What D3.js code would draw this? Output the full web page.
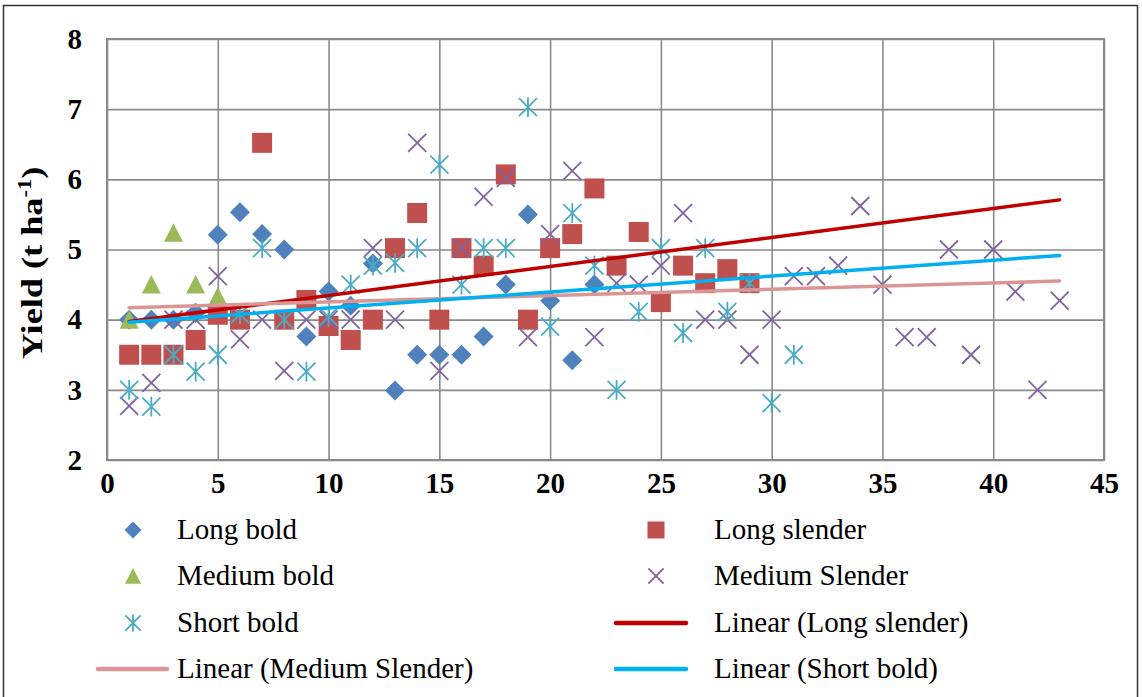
<!DOCTYPE html>
<html>
<head>
<meta charset="utf-8">
<script src="https://cdn.jsdelivr.net/npm/d3@7"></script>
<style>
  body { margin: 0; background: #fff; }
  svg { display: block; }
  text { font-family: "Liberation Serif", "Times New Roman", serif; fill: #000; }
</style>
</head>
<body>
<svg id="chart" width="1142" height="697"></svg>
<script>
// Yield (t ha-1) per sample number; sample n is the n-th value of each list
const longBold = [4.0, 4.0, 4.0, 4.1, 5.21, 5.53, 5.22, 5.0, 3.76, 4.4, 4.2, 4.8, 2.99, 3.5, 3.5,
  3.5, 3.76, 4.5, 5.5, 4.27, 3.42, 4.5];
const longSlender = [3.5, 3.5, 3.5, 3.71, 4.07, 4.0, 6.52, 4.0, 4.28, 3.91, 3.71, 4.0, 5.02, 5.52, 4.0,
  5.02, 4.77, 6.07, 4.0, 5.02, 5.22, 5.87, 4.77, 5.25, 4.25, 4.77, 4.52, 4.72, 4.52];
const mediumBold = [4.0, 4.5, 5.24, 4.5, 4.33];
const mediumSlender = [2.77, 3.1, 4.0, 4.0, 4.62, 3.72, 4.0, 3.27, 4.0, 4.0, 4.0, 5.02, 4.0, 6.52, 3.27,
  5.02, 5.75, 6.02, 3.75, 5.22, 6.12, 3.75, 4.52, 4.5, 4.77, 5.52, 4.0, 4.0, 3.5, 4.0,
  4.62, 4.62, 4.77, 5.62, 4.5, 3.75, 3.75, 5.0, 3.5, 5.0, 4.4, 3.0, 4.27];
const shortBold = [3.0, 2.76, 3.5, 3.26, 3.5, 4.08, 5.02, 4.0, 3.26, 4.04, 4.5, 4.77, 4.81, 5.02, 6.21,
  4.5, 5.02, 5.02, 7.03, 3.9, 5.52, 4.77, 3.0, 4.11, 5.02, 3.81, 5.02, 4.11, 4.52, 2.81, 3.5];

const xTicks = [0, 5, 10, 15, 20, 25, 30, 35, 40, 45];
const yTicks = [2, 3, 4, 5, 6, 7, 8];

const seriesNames = ["Long bold", "Long slender", "Medium bold", "Medium Slender", "Short bold"];
const seriesValues = [longBold, longSlender, mediumBold, mediumSlender, shortBold];
const seriesColors = ["#4F81BD", "#C0504D", "#9BBB59", "#8064A2", "#4BACC6"];
const seriesShapes = ["diamond", "square", "triangle", "x", "star"];

// Linear trendlines (least squares) fitted to three of the groups
const trendNames = ["Linear (Long slender)", "Linear (Medium Slender)", "Linear (Short bold)"];
const trendSource = [longSlender, mediumSlender, shortBold];
const trendColors = ["#C00000", "#D99694", "#00B0F0"];

const svg = d3.select("#chart");
const plot = { left: 107, top: 39, right: 1104, bottom: 460 };

const x = d3.scaleLinear().domain([0, 45]).range([plot.left, plot.right]);
const y = d3.scaleLinear().domain([2, 8]).range([plot.bottom, plot.top]);

// outer chart border
svg.append("rect")
  .attr("x", 3.5).attr("y", 5.5).attr("width", 1134).attr("height", 700)
  .attr("fill", "none").attr("stroke", "#333").attr("stroke-width", 1.5);

// gridlines + axes
const gx = svg.append("g")
  .attr("transform", `translate(0,${plot.bottom})`)
  .call(d3.axisBottom(x).tickValues(xTicks).tickSize(-(plot.bottom - plot.top)).tickPadding(12));
const gy = svg.append("g")
  .attr("transform", `translate(${plot.left},0)`)
  .call(d3.axisLeft(y).tickValues(yTicks).tickSize(-(plot.right - plot.left)).tickPadding(25).tickFormat(d3.format("d")));
[gx, gy].forEach(g => {
  g.select(".domain").remove();
  g.selectAll(".tick line").attr("stroke", "#8a8a8a").attr("stroke-width", 1.6);
  g.selectAll(".tick text")
    .attr("font-family", "'Liberation Serif', 'Times New Roman', serif")
    .attr("font-size", 29).attr("font-weight", "bold").attr("fill", "#000");
});

svg.append("rect")
  .attr("x", plot.left).attr("y", plot.top)
  .attr("width", plot.right - plot.left).attr("height", plot.bottom - plot.top)
  .attr("fill", "none").attr("stroke", "#8a8a8a").attr("stroke-width", 2);

// marker shapes, s = half size
function shapePath(kind, s) {
  switch (kind) {
    case "diamond": return `M0,${-s}L${s},0L0,${s}L${-s},0Z`;
    case "square": return `M${-s},${-s}H${s}V${s}H${-s}Z`;
    case "triangle": return `M0,${-s}L${s},${s * 0.95}L${-s},${s * 0.95}Z`;
    case "x": return `M${-s},${-s}L${s},${s}M${s},${-s}L${-s},${s}`;
    case "star": return `M${-s},${-s}L${s},${s}M${s},${-s}L${-s},${s}M0,${-s * 1.1}L0,${s * 1.1}`;
  }
}
const markerSize = { diamond: 10, square: 10, triangle: 9.5, x: 9, star: 9 };
function styleMarker(sel, kind, color) {
  if (kind === "x" || kind === "star") {
    sel.attr("fill", "none").attr("stroke", color).attr("stroke-width", 1.8);
  } else {
    sel.attr("fill", color).attr("stroke", "none");
  }
}

const marks = svg.append("g");
seriesValues.forEach((vals, si) => {
  const kind = seriesShapes[si];
  const g = marks.append("g");
  g.selectAll("path").data(vals.map((v, i) => ({ n: i + 1, v })))
    .join("path")
    .attr("transform", d => `translate(${x(d.n)},${y(d.v)})`)
    .attr("d", shapePath(kind, markerSize[kind]))
    .call(styleMarker, kind, seriesColors[si]);
});

// trendlines drawn across the full sample range
const nMax = d3.max(seriesValues, v => v.length);
function fit(vals) {
  const xs = vals.map((v, i) => i + 1);
  const mx = d3.mean(xs), my = d3.mean(vals);
  const sxy = d3.sum(vals, (v, i) => (xs[i] - mx) * (v - my));
  const sxx = d3.sum(xs, xi => (xi - mx) ** 2);
  const b = sxy / sxx;
  return { a: my - b * mx, b };
}
const lineGen = d3.line().x(d => x(d[0])).y(d => y(d[1]));
trendSource.forEach((vals, ti) => {
  const { a, b } = fit(vals);
  svg.append("path")
    .attr("d", lineGen([[1, a + b], [nMax, a + b * nMax]]))
    .attr("fill", "none").attr("stroke", trendColors[ti])
    .attr("stroke-width", 3.5).attr("stroke-linecap", "round");
});

// y-axis title, glyphs stretched along the reading direction
const title = svg.append("text")
  .attr("transform", "translate(42,263) rotate(-90) scale(1.25,1)")
  .attr("text-anchor", "middle")
  .attr("font-size", 29).attr("font-weight", "bold");
title.append("tspan").text("Yield (t ha");
title.append("tspan").attr("font-size", 18).attr("dy", -11).text("-1");
title.append("tspan").attr("dy", 11).text(")");

// legend: two columns, filled row by row
const legendItems = [
  ...seriesNames.map((name, i) => ({ name, kind: seriesShapes[i], color: seriesColors[i], line: false })),
  ...trendNames.map((name, i) => ({ name, color: trendColors[i], line: true }))
];
const legendMarkerX = [133, 656];
const legendTextX = [177, 714];
const legendLineX = [[98, 167], [616, 686]];
const legendBaseline = [539, 585, 632, 678];
const legend = svg.append("g");
legendItems.forEach((item, k) => {
  const col = k % 2, row = Math.floor(k / 2);
  const cy = legendBaseline[row] - 9;
  if (item.line) {
    legend.append("line")
      .attr("x1", legendLineX[col][0]).attr("x2", legendLineX[col][1])
      .attr("y1", cy).attr("y2", cy)
      .attr("stroke", item.color).attr("stroke-width", 4.5).attr("stroke-linecap", "round");
  } else {
    legend.append("path")
      .attr("transform", `translate(${legendMarkerX[col]},${cy})`)
      .attr("d", shapePath(item.kind, markerSize[item.kind] * 0.85))
      .call(styleMarker, item.kind, item.color);
  }
  legend.append("text")
    .attr("x", legendTextX[col]).attr("y", legendBaseline[row])
    .attr("font-size", 29).text(item.name);
});
</script>
</body>
</html>
